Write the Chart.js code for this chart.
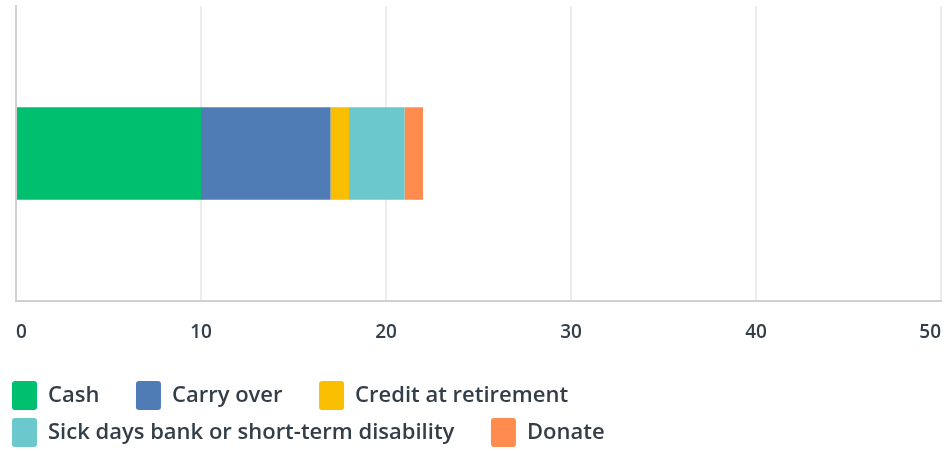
<!DOCTYPE html>
<html>
<head>
<meta charset="utf-8">
<script src="https://cdn.jsdelivr.net/npm/chart.js@4/dist/chart.umd.min.js"></script>
<style>
  html, body { margin: 0; padding: 0; background: #fff; }
  #wrap { width: 945px; height: 451px; }
</style>
</head>
<body>
<div id="wrap"><canvas id="myChart"></canvas></div>
<script>
'use strict';

// data
let categories = ['Q1'];
let seriesNames = ['Cash', 'Carry over', 'Credit at retirement', 'Sick days bank or short-term disability', 'Donate'];
let seriesValues = [[10], [7], [1], [3], [1]];
let seriesColors = ['#00bf6f', '#507cb6', '#f9be00', '#6bc8cd', '#ff8b4f'];
let xTicks = [0, 10, 20, 30, 40, 50];

let textColor = '#333e48';

let datasets = [];
for (let i = 0; i < seriesNames.length; i++) {
  datasets.push({
    label: seriesNames[i],
    data: seriesValues[i],
    backgroundColor: seriesColors[i],
    borderWidth: 0,
    categoryPercentage: 1,
    barPercentage: 0.313
  });
}

// first tick label flush left, last flush right
const edgeTicks = {
  id: 'edgeTicks',
  beforeDraw(chart) {
    let items = chart.scales.x.getLabelItems();
    if (items.length) {
      items[0].options.textAlign = 'left';
      items[items.length - 1].options.textAlign = 'right';
    }
  }
};

const chartGraphics = {
  type: 'bar',
  data: {
    labels: categories,
    datasets: datasets
  },
  options: {
    indexAxis: 'y',
    responsive: true,
    maintainAspectRatio: false,
    animation: false,
    layout: {
      padding: { top: 6, right: 4, left: 4, bottom: -6 }
    },
    scales: {
      x: {
        stacked: true,
        min: xTicks[0],
        max: xTicks[xTicks.length - 1],
        afterBuildTicks(scale) {
          scale.ticks = xTicks.map(v => ({ value: v }));
        },
        afterFit(scale) {
          scale.paddingLeft = 0;
          scale.paddingRight = 0;
          scale.height = 72;
        },
        grid: { color: '#ececec', lineWidth: 2, drawTicks: false },
        border: { color: '#d0d0d0', width: 2 },
        ticks: {
          color: textColor,
          padding: 20,
          maxRotation: 0,
          font: { family: 'Open Sans', size: 19, weight: '600' }
        }
      },
      y: {
        stacked: true,
        afterFit(scale) {
          scale.width = 12;
        },
        grid: { display: false },
        border: { color: '#d0d0d0', width: 2 },
        ticks: { display: false }
      }
    },
    plugins: {
      tooltip: { enabled: false },
      legend: {
        position: 'bottom',
        align: 'start',
        labels: {
          color: textColor,
          boxWidth: 25,
          boxHeight: 29,
          padding: 8,
          font: { family: 'Open Sans', size: 22, weight: '600' },
          generateLabels(chart) {
            let items = Chart.defaults.plugins.legend.labels.generateLabels(chart);
            items.forEach(item => {
              item.text = item.text + '     ';
              item.borderRadius = 3;
              item.lineWidth = 0;
            });
            return items;
          }
        }
      }
    }
  },
  plugins: [edgeTicks]
};

let canvasChart = document.getElementById('myChart').getContext('2d');
const myChart = new Chart(canvasChart, chartGraphics);
</script>
</body>
</html>
